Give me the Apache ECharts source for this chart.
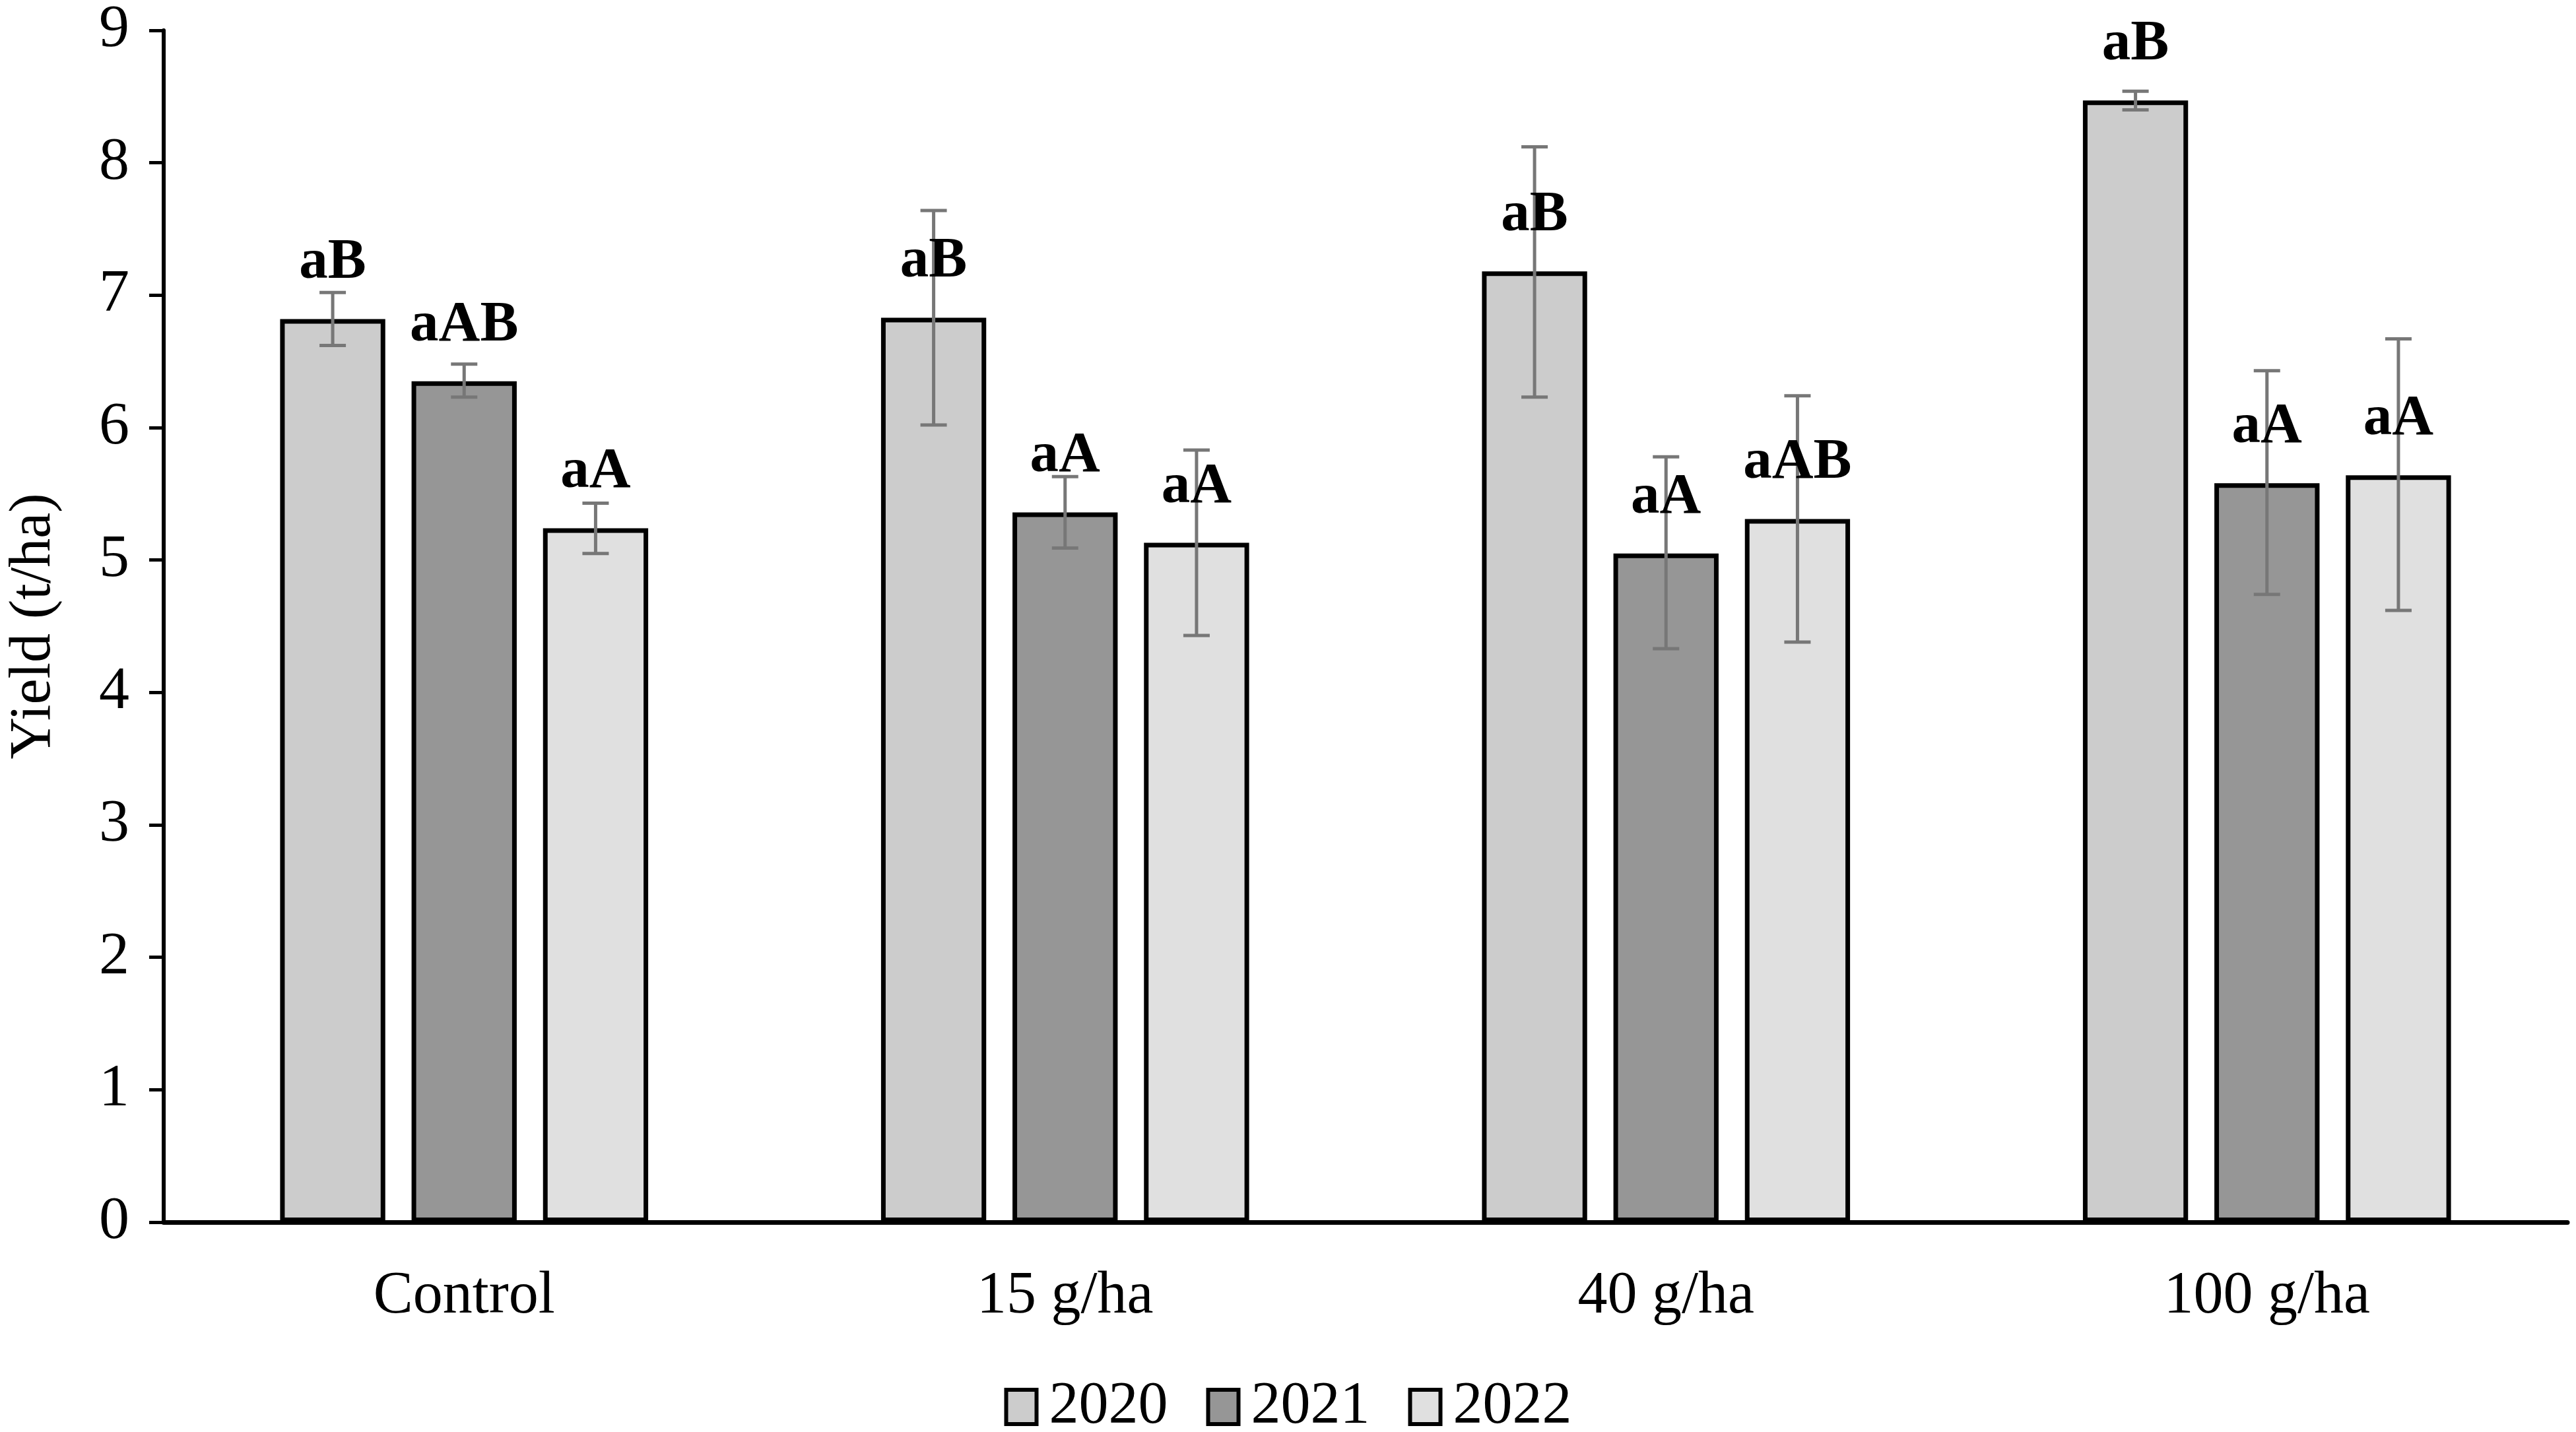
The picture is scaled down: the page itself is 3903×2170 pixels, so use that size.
<!DOCTYPE html>
<html>
<head>
<meta charset="utf-8">
<script src="https://cdn.jsdelivr.net/npm/echarts@6/dist/echarts.min.js"></script>
<style>
  html, body { margin: 0; padding: 0; background: #fff; }
  #main { width: 3903px; height: 2170px; }
</style>
</head>
<body>
<div id="main"></div>
<script>
var categories = ['Control', '15 g/ha', '40 g/ha', '100 g/ha'];
var years = ['2020', '2021', '2022'];
var colors = ['#cccccc', '#969696', '#e0e0e0'];

// mean yield (t/ha)
var yield2020 = [6.82, 6.83, 7.18, 8.47];
var yield2021 = [6.35, 5.36, 5.05, 5.58];
var yield2022 = [5.24, 5.13, 5.31, 5.64];

// error bar ends
var low2020 = [6.62, 6.02, 6.23, 8.40];
var high2020 = [7.02, 7.64, 8.12, 8.54];
var low2021 = [6.23, 5.09, 4.33, 4.74];
var high2021 = [6.48, 5.63, 5.78, 6.43];
var low2022 = [5.05, 4.43, 4.38, 4.62];
var high2022 = [5.43, 5.83, 6.24, 6.67];

// significance letters
var letters2020 = ['aB', 'aB', 'aB', 'aB'];
var letters2021 = ['aAB', 'aA', 'aA', 'aA'];
var letters2022 = ['aA', 'aA', 'aAB', 'aA'];

var yields = [yield2020, yield2021, yield2022];
var lows = [low2020, low2021, low2022];
var highs = [high2020, high2021, high2022];
var letters = [letters2020, letters2021, letters2022];

var font = '"Liberation Serif", "Times New Roman", serif';
var barFrac = 0.175, barGap = 0.25;

var myChart = echarts.init(document.getElementById('main'), null, {renderer: 'canvas'});

var series = [];
years.forEach(function(y, s) {
  series.push({
    name: y,
    type: 'bar',
    data: yields[s],
    barWidth: (barFrac * 100) + '%',
    barGap: (barGap * 100) + '%',
    itemStyle: { color: colors[s], borderColor: '#000', borderWidth: 7 },
    z: 2
  });
});

// error bars + letters, placed on each bar of the group
years.forEach(function(y, s) {
  var errData = categories.map(function(c, i) { return [i, lows[s][i], highs[s][i], yields[s][i]]; });
  series.push({
    name: y + ' err',
    type: 'custom',
    data: errData,
    encode: { x: 0, y: [1, 2] },
    z: 5,
    silent: true,
    renderItem: function(params, api) {
      var band = api.size([1, 0])[0];
      var off = (s - 1) * band * barFrac * (1 + barGap);
      var top = api.coord([api.value(0), api.value(2)]);
      var bot = api.coord([api.value(0), api.value(1)]);
      var mean = api.coord([api.value(0), api.value(3)]);
      var cx = top[0] + off;
      var half = 20;
      var st = { stroke: '#777777', lineWidth: 5 };
      return {
        type: 'group',
        children: [
          { type: 'line', shape: { x1: cx, y1: top[1], x2: cx, y2: bot[1] }, style: st },
          { type: 'line', shape: { x1: cx - half, y1: top[1], x2: cx + half, y2: top[1] }, style: st },
          { type: 'line', shape: { x1: cx - half, y1: bot[1], x2: cx + half, y2: bot[1] }, style: st },
          {
            type: 'text',
            x: cx,
            y: mean[1] - 41,
            style: {
              text: letters[s][params.dataIndex],
              x: 0, y: 0,
              fontFamily: font,
              fontWeight: 'bold',
              fontSize: 87,
              fill: '#000',
              align: 'center',
              verticalAlign: 'bottom'
            },
            z2: 10
          }
        ]
      };
    }
  });
});

var option = {
  animation: false,
  backgroundColor: '#fff',
  textStyle: { fontFamily: font },
  grid: { left: 241, right: 13, top: 45, bottom: 318, containLabel: false },
  legend: {
    data: years,
    top: 2082,
    left: 'center',
    icon: 'rect',
    itemWidth: 46,
    itemHeight: 52,
    itemGap: 58,
    itemStyle: { borderColor: '#000', borderWidth: 6 },
    textStyle: { fontFamily: font, fontSize: 90, color: '#000', padding: [0, 0, 0, 14] }
  },
  xAxis: {
    type: 'category',
    data: categories,
    axisLine: { lineStyle: { color: '#000', width: 7 } },
    axisTick: { alignWithLabel: true, length: 18, lineStyle: { color: '#000', width: 5 } },
    axisLabel: { fontFamily: font, fontSize: 90, color: '#000', margin: 68 }
  },
  yAxis: {
    type: 'value',
    min: 0,
    max: 9,
    interval: 1,
    name: 'Yield (t/ha)',
    nameLocation: 'middle',
    nameGap: 152,
    nameTextStyle: { fontFamily: font, fontSize: 88, color: '#000' },
    splitLine: { show: false },
    axisLine: { show: true, lineStyle: { color: '#000', width: 6 } },
    axisTick: { show: true, length: 22, lineStyle: { color: '#000', width: 5 } },
    axisLabel: { fontFamily: font, fontSize: 92, color: '#000', margin: 52 }
  },
  series: series
};

myChart.setOption(option);
</script>
</body>
</html>
